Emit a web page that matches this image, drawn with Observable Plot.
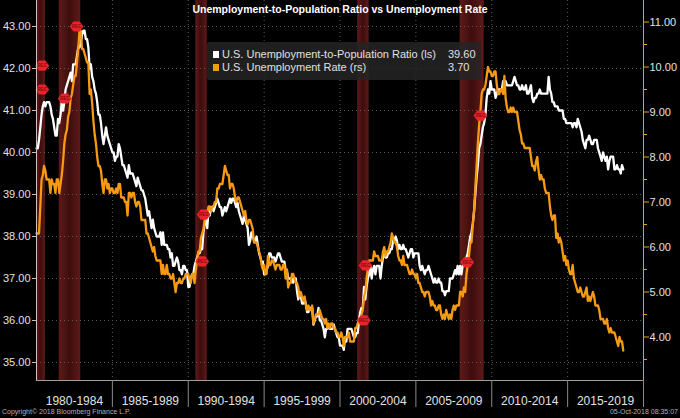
<!DOCTYPE html>
<html>
<head>
<meta charset="utf-8">
<script src="https://cdn.jsdelivr.net/npm/d3@7"></script>
<script src="https://cdn.jsdelivr.net/npm/@observablehq/plot@0.6"></script>
<style>
  html, body { margin: 0; padding: 0; background: #000; }
  #wrap { position: relative; width: 680px; height: 418px; background: #000; overflow: hidden; font-family: "Liberation Sans", Arial, sans-serif; }
  #title { position: absolute; left: 0; top: 3px; width: 680px; text-align: center; color: #fff; font-weight: bold; font-size: 10.5px; }
  #legend { position: absolute; left: 207px; top: 42px; width: 274px; height: 38px; background: rgba(36,36,36,0.85); border-radius: 2px; color: #e0e0e0; font-size: 11px; }
  .row { position: absolute; left: 6px; height: 13px; line-height: 13px; white-space: nowrap; }
  .sw { display: inline-block; width: 6px; height: 7px; margin-right: 3px; vertical-align: 0px; }
  .val { position: absolute; left: 235px; }
  #foot-l { position: absolute; left: 2px; top: 408px; font-size: 7px; color: #b0b0b0; }
  #foot-r { position: absolute; right: 2px; top: 408px; font-size: 7px; color: #b0b0b0; }
</style>
</head>
<body>
<div id="wrap">
  <div id="chart"></div>
  <div id="title"></div>
  <div id="legend"></div>
  <div id="foot-l">Copyright© 2018 Bloomberg Finance L.P.</div>
  <div id="foot-r">05-Oct-2018 08:35:07</div>
</div>
<script>
// ---------- DATA (monthly, Jan 1980 – Sep 2018) ----------
const startYear = 1980;

// U.S. Unemployment-to-Population Ratio (left scale)
const ratioValues = [
  40.1,40.1,40.3,40.6,40.9,41.1,41.2,41.1,41.2,41.2,41.2,41.1, // 1980
  40.9,40.8,40.6,40.4,40.4,40.8,40.7,40.9,41.2,41.0,41.2,41.5, // 1981
  41.6,41.7,41.8,41.9,41.7,42.1,42.1,42.1,42.3,42.5,42.5,42.6, // 1982
  42.8,42.9,42.9,42.7,42.7,42.5,42.0,42.1,41.8,41.7,41.5,41.4, // 1983
  41.2,40.9,40.9,40.7,40.4,40.2,40.4,40.6,40.4,40.3,40.2,40.1, // 1984
  40.0,40.0,39.8,39.9,39.9,40.2,40.1,39.9,39.7,39.7,39.6,39.5, // 1985
  39.4,39.7,39.5,39.5,39.5,39.4,39.3,39.2,39.4,39.3,39.2,39.1, // 1986
  39.1,39.0,38.9,38.7,38.5,38.6,38.4,38.2,38.4,38.2,38.1,38.0, // 1987
  38.0,38.0,38.1,37.8,38.1,37.8,37.8,37.8,37.7,37.7,37.5,37.6, // 1988
  37.3,37.3,37.4,37.5,37.4,37.2,37.2,37.1,37.3,37.3,37.2,37.2, // 1989
  36.8,36.8,37.0,37.1,37.1,37.3,37.4,37.5,37.6,37.6,37.7,37.7, // 1990
  38.1,38.3,38.5,38.2,38.6,38.5,38.7,38.7,38.6,38.7,38.8,38.9, // 1991
  38.8,38.7,38.7,38.5,38.6,38.7,38.6,38.7,38.8,38.9,38.8,38.9, // 1992
  38.9,38.8,38.7,38.8,38.6,38.5,38.4,38.3,38.5,38.4,38.3,38.2, // 1993
  37.8,37.9,38.1,38.0,37.9,37.9,38.0,37.8,37.6,37.5,37.4,37.4, // 1994
  37.1,37.1,37.2,37.3,37.6,37.6,37.5,37.5,37.5,37.4,37.5,37.6, // 1995
  37.6,37.5,37.4,37.4,37.4,37.2,37.2,37.0,37.0,37.0,37.0,36.9, // 1996
  37.0,37.0,36.7,36.5,36.6,36.6,36.4,36.4,36.5,36.4,36.2,36.2, // 1997
  36.3,36.3,36.3,35.9,36.0,36.1,36.1,36.3,36.0,36.0,35.9,35.8, // 1998
  35.6,35.8,35.8,35.9,35.8,35.8,35.8,35.9,35.8,35.7,35.6,35.6, // 1999
  35.4,35.4,35.4,35.3,35.6,35.5,35.8,35.8,35.8,35.8,35.7,35.6, // 2000
  35.6,35.7,35.7,36.0,36.2,36.3,36.3,36.8,36.5,36.8,37.0,37.1, // 2001
  37.3,37.0,37.2,37.3,37.1,37.3,37.3,37.3,37.0,37.3,37.5,37.6, // 2002
  37.5,37.5,37.6,37.6,37.7,37.7,37.9,37.9,38.0,37.9,37.7,37.8, // 2003
  37.7,37.7,37.8,37.7,37.7,37.6,37.5,37.6,37.7,37.7,37.5,37.6, // 2004
  37.6,37.6,37.6,37.3,37.2,37.3,37.2,37.1,37.2,37.2,37.3,37.2, // 2005
  37.1,37.0,36.9,37.0,36.9,36.9,37.0,36.9,36.9,36.7,36.7,36.6, // 2006
  36.7,36.7,36.7,37.0,37.0,37.0,37.1,37.2,37.1,37.3,37.1,37.3, // 2007
  37.1,37.3,37.3,37.3,37.5,37.6,37.8,38.0,38.1,38.3,38.6,39.0, // 2008
  39.4,39.7,40.1,40.2,40.4,40.6,40.7,40.9,41.3,41.5,41.4,41.7, // 2009
  41.5,41.5,41.5,41.3,41.4,41.5,41.5,41.5,41.5,41.7,41.7,41.7, // 2010
  41.6,41.6,41.6,41.6,41.6,41.7,41.8,41.7,41.6,41.6,41.5,41.5, // 2011
  41.6,41.5,41.5,41.6,41.4,41.4,41.5,41.6,41.3,41.2,41.3,41.3, // 2012
  41.4,41.4,41.5,41.4,41.4,41.4,41.4,41.4,41.4,41.8,41.5,41.4, // 2013
  41.2,41.2,41.1,41.1,41.1,41.0,41.0,41.0,41.0,40.8,40.8,40.7, // 2014
  40.7,40.7,40.7,40.7,40.6,40.7,40.7,40.6,40.8,40.7,40.6,40.5, // 2015
  40.3,40.2,40.1,40.3,40.3,40.4,40.3,40.2,40.2,40.3,40.3,40.3, // 2016
  40.1,40.0,39.9,39.8,40.0,39.9,39.8,39.9,39.6,39.8,39.9,39.9, // 2017
  39.9,39.6,39.6,39.7,39.6,39.6,39.5,39.7,39.6                 // 2018
];

// U.S. Unemployment Rate (right scale)
const rateValues = [
  6.3,6.3,6.3,6.9,7.5,7.6,7.8,7.7,7.5,7.5,7.5,7.2,   // 1980
  7.5,7.4,7.4,7.2,7.5,7.5,7.2,7.4,7.6,7.9,8.3,8.5,   // 1981
  8.6,8.9,9.0,9.3,9.4,9.6,9.8,9.8,10.1,10.4,10.8,10.8, // 1982
  10.4,10.4,10.3,10.2,10.1,10.1,9.4,9.5,9.2,8.8,8.5,8.3, // 1983
  8.0,7.8,7.8,7.7,7.4,7.2,7.5,7.5,7.3,7.4,7.2,7.3,   // 1984
  7.3,7.2,7.2,7.3,7.2,7.4,7.4,7.1,7.1,7.1,7.0,7.0,   // 1985
  6.7,7.2,7.2,7.1,7.2,7.2,7.0,6.9,7.0,7.0,6.9,6.6,   // 1986
  6.6,6.6,6.6,6.3,6.3,6.2,6.1,6.0,5.9,6.0,5.8,5.7,   // 1987
  5.7,5.7,5.7,5.4,5.6,5.4,5.4,5.6,5.4,5.4,5.3,5.3,   // 1988
  5.4,5.2,5.0,5.2,5.2,5.3,5.2,5.2,5.3,5.3,5.4,5.4,   // 1989
  5.4,5.3,5.2,5.4,5.4,5.2,5.5,5.7,5.9,5.9,6.2,6.3,   // 1990
  6.4,6.6,6.8,6.7,6.9,6.9,6.8,6.9,6.9,7.0,7.0,7.3,   // 1991
  7.3,7.4,7.4,7.4,7.6,7.8,7.7,7.6,7.6,7.3,7.4,7.4,   // 1992
  7.3,7.1,7.0,7.1,7.1,7.0,6.9,6.8,6.7,6.8,6.6,6.5,   // 1993
  6.6,6.6,6.5,6.4,6.1,6.1,6.1,6.0,5.9,5.8,5.6,5.5,   // 1994
  5.6,5.4,5.4,5.8,5.6,5.6,5.7,5.7,5.6,5.5,5.6,5.6,   // 1995
  5.6,5.5,5.5,5.6,5.6,5.3,5.5,5.1,5.2,5.2,5.4,5.4,   // 1996
  5.3,5.2,5.2,5.1,4.9,5.0,4.9,4.8,4.9,4.7,4.6,4.7,   // 1997
  4.6,4.6,4.7,4.3,4.4,4.5,4.5,4.5,4.6,4.5,4.4,4.4,   // 1998
  4.3,4.4,4.2,4.3,4.2,4.3,4.3,4.2,4.2,4.1,4.1,4.0,   // 1999
  4.0,4.1,4.0,3.8,4.0,4.0,4.0,4.1,3.9,3.9,3.9,3.9,   // 2000
  4.2,4.2,4.3,4.4,4.3,4.5,4.6,4.9,5.0,5.3,5.5,5.7,   // 2001
  5.7,5.7,5.7,5.9,5.8,5.8,5.8,5.7,5.7,5.7,5.9,6.0,   // 2002
  5.8,5.9,5.9,6.0,6.1,6.3,6.2,6.1,6.1,6.0,5.8,5.7,   // 2003
  5.7,5.6,5.8,5.6,5.6,5.6,5.5,5.4,5.4,5.5,5.4,5.4,   // 2004
  5.3,5.4,5.2,5.2,5.1,5.0,5.0,4.9,5.0,5.0,5.0,4.9,   // 2005
  4.7,4.8,4.7,4.7,4.6,4.6,4.7,4.7,4.5,4.4,4.5,4.4,   // 2006
  4.6,4.5,4.4,4.5,4.4,4.6,4.7,4.6,4.7,4.7,4.7,5.0,   // 2007
  5.0,4.9,5.1,5.0,5.4,5.6,5.8,6.1,6.1,6.5,6.8,7.3,   // 2008
  7.8,8.3,8.7,9.0,9.4,9.5,9.5,9.6,9.8,10.0,9.9,9.9,  // 2009
  9.8,9.8,9.9,9.9,9.6,9.4,9.4,9.5,9.5,9.4,9.8,9.3,   // 2010
  9.1,9.0,9.0,9.1,9.0,9.1,9.0,9.0,9.0,8.8,8.6,8.5,   // 2011
  8.3,8.3,8.2,8.2,8.2,8.2,8.2,8.0,7.8,7.8,7.7,7.9,   // 2012
  8.0,7.7,7.5,7.6,7.5,7.5,7.3,7.2,7.2,7.2,6.9,6.7,   // 2013
  6.6,6.7,6.7,6.2,6.3,6.1,6.2,6.1,5.9,5.7,5.8,5.6,   // 2014
  5.7,5.5,5.4,5.4,5.6,5.3,5.2,5.1,5.0,5.0,5.1,5.0,   // 2015
  4.9,4.9,5.0,5.1,4.8,4.9,4.8,4.9,5.0,4.9,4.7,4.7,   // 2016
  4.7,4.6,4.4,4.4,4.4,4.3,4.3,4.4,4.2,4.1,4.2,4.1,   // 2017
  4.1,4.1,4.0,3.9,3.8,4.0,3.9,3.9,3.7                // 2018
];

// NBER recessions (decimal years)
const recStart = [1980.0, 1981.5, 1990.5, 2001.1667, 2007.9167];
const recEnd   = [1980.5833, 1982.9167, 1991.25, 2001.9167, 2009.5];

// "REC" event markers (decimal year, right-scale value)
const recMarkYear  = [1980.38, 1980.38, 1981.86, 1982.64, 1991.02, 1990.92, 2001.68, 2001.57, 2008.38, 2009.26];
const recMarkValue = [10.03, 9.5, 9.3, 10.9, 6.72, 5.68, 5.59, 4.37, 5.66, 8.92];

// Axes
const leftTicks  = [35, 36, 37, 38, 39, 40, 41, 42, 43];
const rightTicks = [4, 5, 6, 7, 8, 9, 10, 11];
const rightMinor = [3.5, 4.5, 5.5, 6.5, 7.5, 8.5, 9.5, 10.5];
const leftDomain  = [34.571, 43.619];
const rightDomain = [3.033, 11.478];
const periodBounds = [1985, 1990, 1995, 2000, 2005, 2010, 2015, 2020];
const periodMids   = [1982.5, 1987.5, 1992.5, 1997.5, 2002.5, 2007.5, 2012.5, 2017.5];
const periodLabels = ["1980-1984", "1985-1989", "1990-1994", "1995-1999", "2000-2004", "2005-2009", "2010-2014", "2015-2019"];

const titleText = "Unemployment-to-Population Ratio vs Unemployment Rate";
const series1Name = "U.S. Unemployment-to-Population Ratio (ls)";
const series2Name = "U.S. Unemployment Rate (rs)";
const orange = "#f59a12";

// ---------- BUILD ----------
const toLeft = d3.scaleLinear().domain(rightDomain).range(leftDomain);
const ratio = ratioValues.map((v, i) => ({x: startYear + i / 12, v}));
const rate = rateValues.map((v, i) => ({x: startYear + i / 12, v}));
const recessions = recStart.map((s, i) => ({s, e: recEnd[i]}));
const recMarks = recMarkYear.map((x, i) => ({x, v: recMarkValue[i]}));

const recSymbol = {
  draw(context, size) {
    const r = Math.sqrt(size / Math.PI);
    const w = r * 1.15, h = r * 0.85;
    context.moveTo(-w, 0);
    context.lineTo(-w * 0.45, -h);
    context.lineTo(w * 0.45, -h);
    context.lineTo(w, 0);
    context.lineTo(w * 0.45, h);
    context.lineTo(-w * 0.45, h);
    context.closePath();
  }
};

const defsMark = () => {
  const defs = d3.create("svg:defs");
  const g = defs.append("linearGradient").attr("id", "recGrad").attr("x1", 0).attr("x2", 1).attr("y1", 0).attr("y2", 0);
  g.append("stop").attr("offset", 0).attr("stop-color", "#5e1a1a");
  g.append("stop").attr("offset", 0.5).attr("stop-color", "#3e0d0d");
  g.append("stop").attr("offset", 1).attr("stop-color", "#5e1a1a");
  return defs.node();
};

const chart = Plot.plot({
  width: 680,
  height: 418,
  marginLeft: 36,
  marginRight: 37,
  marginTop: 0,
  marginBottom: 38,
  style: {background: "#000", color: "#e2e2e2", fontFamily: "Liberation Sans, Arial, sans-serif", fontSize: "11px"},
  x: {domain: [1980, 2020], label: null},
  y: {domain: leftDomain, label: null},
  marks: [
    defsMark,
    Plot.rect(recessions, {x1: "s", x2: "e", fill: "url(#recGrad)"}),
    Plot.gridY(leftTicks, {stroke: "#5a5a5a", strokeOpacity: 1, strokeDasharray: "1,3"}),
    Plot.gridX(periodBounds.slice(0, -1), {stroke: "#5a5a5a", strokeOpacity: 1, strokeDasharray: "1,3"}),
    Plot.line(ratio, {x: "x", y: "v", stroke: "#ffffff", strokeWidth: 2.3}),
    Plot.line(rate, {x: "x", y: d => toLeft(d.v), stroke: orange, strokeWidth: 2.3}),
    Plot.dot(recMarks, {x: "x", y: d => toLeft(d.v), r: 6, symbol: recSymbol, fill: "#e8232b", stroke: "none"}),
    Plot.text(recMarks, {x: "x", y: d => toLeft(d.v), text: () => "REC", fontSize: 4.5, fontWeight: "bold", fill: "#8b0a0a"}),
    Plot.axisY(leftTicks, {anchor: "left", label: null, tickSize: 4, tickPadding: 2, tickFormat: d => d.toFixed(2), stroke: "#d0c0c0", fill: "#e2e2e2", fontSize: 11}),
    Plot.frame({anchor: "left", stroke: "#d0c0c0"}),
    Plot.axisY(rightMinor.map(toLeft), {anchor: "right", label: null, tickSize: 3, tickFormat: () => "", stroke: orange}),
    Plot.axisY(rightTicks.map(toLeft), {anchor: "right", label: null, tickSize: 5, tickPadding: 1, tickFormat: d => toLeft.invert(d).toFixed(2), stroke: orange, fill: "#e2e2e2", fontSize: 11}),
    Plot.frame({anchor: "right", stroke: orange}),
    Plot.frame({anchor: "bottom", stroke: "#a0a0a0"}),
    Plot.axisX(periodBounds, {anchor: "bottom", label: null, tickSize: 27, tickFormat: () => "", stroke: "#8a8a8a"}),
    Plot.axisX(periodMids, {anchor: "bottom", label: null, tickSize: 0, tickPadding: 16, tickFormat: d => periodLabels[periodMids.indexOf(d)], fill: "#e2e2e2", fontSize: 12})
  ]
});
document.getElementById("chart").appendChild(chart);

document.getElementById("title").textContent = titleText;
const lastRatio = ratioValues[ratioValues.length - 1].toFixed(2);
const lastRate = rateValues[rateValues.length - 1].toFixed(2);
document.getElementById("legend").innerHTML =
  `<div class="row" style="top:6px"><span class="sw" style="background:#fff"></span>${series1Name}<span class="val">${lastRatio}</span></div>` +
  `<div class="row" style="top:19px"><span class="sw" style="background:${orange}"></span>${series2Name}<span class="val">${lastRate}</span></div>`;
</script>
</body>
</html>
